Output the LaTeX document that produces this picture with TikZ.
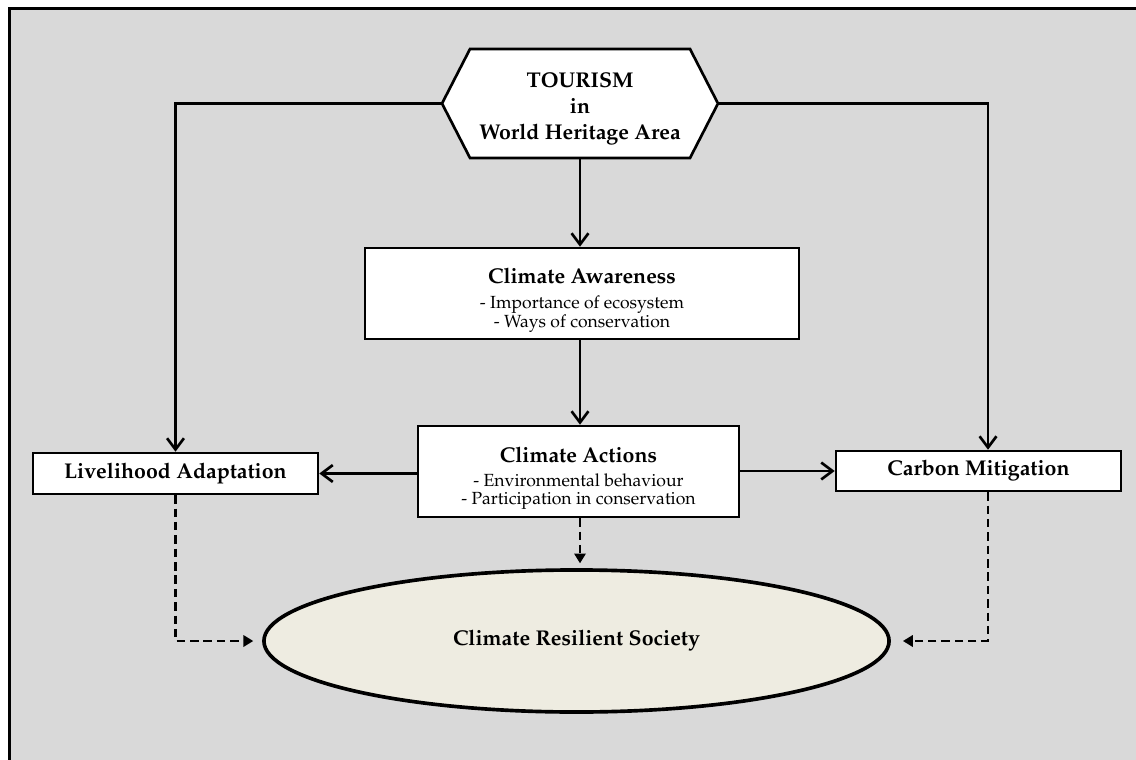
\documentclass[tikz,border=0pt]{standalone}
\usepackage[T1]{fontenc}
\usepackage{graphicx}
\renewcommand\rmdefault{ppl}
\usetikzlibrary{arrows.meta,shapes.geometric}
\definecolor{panel}{HTML}{D9D9D9}
\definecolor{oval}{HTML}{EEECE1}
\newcommand\headfont{\fontsize{15.2}{18.4}\selectfont\bfseries}
% two centred note lines, enlarged as a block; baseline on the first line
\newcommand\notes[2]{\scalebox{1.25}{\fontsize{10}{10.3}\selectfont
  \begin{tabular}[t]{@{}c@{}}#1\\#2\end{tabular}}}

\begin{document}
\begin{tikzpicture}[x=0.025cm,y=-0.025cm,
  box/.style={draw=black, line width=1.8pt, fill=white, inner sep=0pt, align=center},
  head/.style={font=\headfont, inner sep=0pt, anchor=base},
  note/.style={inner sep=0pt, anchor=base},
  flow/.style={line width=1.9pt, -{Straight Barb[length=8pt,width=12pt,line width=1.9pt]}},
  feed/.style={line width=1.9pt, dash pattern=on 6pt off 3.5pt, -{Triangle[length=7pt,width=8pt]}}]

\useasboundingbox (0,0) rectangle (1136,760);

% grey panel with its frame
\fill[panel] (9.5,8.5) rectangle (1136,760);
\draw[line width=2.4pt] (9.5,760) -- (9.5,8.5) -- (1136,8.5);

% hexagon with the tourism label
\coordinate (hexL) at (442,103.5);
\coordinate (hexR) at (718,103.5);
\coordinate (hexB) at (580,158);
\draw[line width=1.9pt, fill=white, line join=miter]
  (hexL) -- (470,49) -- (690,49) -- (hexR) -- (690,158) -- (470,158) -- cycle;
\node[align=center, font=\headfont, inner sep=0pt] (tour) at (580,109)
  {TOURISM\\in\\World Heritage Area};

% awareness and action boxes, each with a heading and two notes
\node[box, minimum width=10.85cm, minimum height=2.275cm] (aware) at (582,293.5) {};
\node[head] (awareT) at (582,284) {Climate Awareness};
\node[note] (awareN) at (582,309) {\notes{- Importance of ecosystem}{- Ways of conservation}};

\node[box, minimum width=8.025cm, minimum height=2.275cm] (act) at (578.5,471.5) {};
\node[head] (actT) at (578.5,462) {Climate Actions};
\node[note] (actN) at (578.5,486) {\notes{- Environmental behaviour}{- Participation in conservation}};

% outcome boxes and the oval
\node[box, minimum width=7.125cm, minimum height=1.025cm, font=\headfont] (live) at (175.5,473.5)
  {Livelihood Adaptation};
\node[box, minimum width=7.125cm, minimum height=1.0cm, font=\headfont] (carb) at (978.5,471)
  {Carbon Mitigation};
\node[ellipse, draw=black, line width=2.6pt, fill=oval, inner sep=0pt,
  minimum width=15.625cm, minimum height=3.55cm, font=\headfont] (soc) at (576.5,641)
  {Climate Resilient Society};

% solid connectors
\coordinate (lturn) at (175.5,103.5);
\coordinate (rturn) at (988,103.5);
\draw[flow] (hexL) -- (lturn) -- (live.north);
\draw[flow] (hexR) -- (rturn) -- (rturn |- carb.north);
\draw[flow] (hexB) -- (hexB |- aware.north);
\draw[flow] (aware.south -| hexB) -- (hexB |- act.north);
\draw[flow] (act.west |- live.east) -- (live.east);
\draw[flow] (act.east |- carb.west) -- (carb.west);

% dashed connectors
\draw[feed] (live.south) -- (live.south |- soc.west) -- ([xshift=-0.22cm]soc.west);
\draw[feed] (rturn |- carb.south) -- (rturn |- soc.east) -- ([xshift=0.3cm]soc.east);
\draw[feed] (act.south -| hexB) -- ([yshift=0.12cm]soc.north -| hexB);
\end{tikzpicture}
\end{document}
